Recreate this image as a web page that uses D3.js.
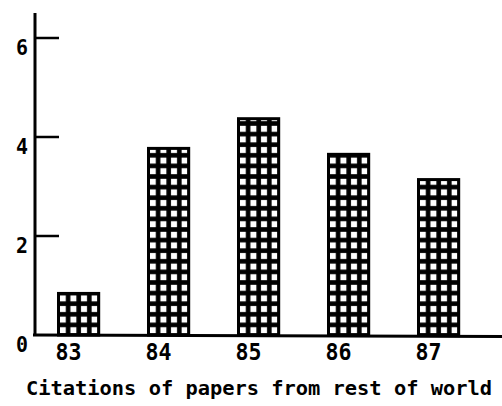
<!DOCTYPE html>
<html><head><meta charset="utf-8">
<script src="https://cdn.jsdelivr.net/npm/d3@7"></script>
<style>body{margin:0;background:#fff}svg{display:block}</style>
</head><body>
<script>
const years = ["83","84","85","86","87"];
const values = [0.87, 3.8, 4.4, 3.68, 3.17];
const yTicks = [0, 2, 4, 6];
const yTickLabels = ["0", "2", "4", "6"];
const xTitle = "Citations of papers from rest of world";

const W = 502, H = 406;
const svg = d3.select("body").append("svg").attr("width", W).attr("height", H);

const x = d3.scaleBand().domain(years).range([33.6, 483.6]).paddingInner(0.52).paddingOuter(0.26);
const y = d3.scaleLinear().domain([0, 6]).range([335, 38]);
const axisX = 35;

const defs = svg.append("defs");
const cellW = 10.6, cellH = 10.6;
values.forEach((v, i) => {
  const p = defs.append("pattern").attr("id", "grid" + i)
    .attr("patternUnits", "userSpaceOnUse")
    .attr("x", x(years[i])).attr("y", y(0))
    .attr("width", cellW).attr("height", cellH);
  p.append("rect").attr("width", cellW).attr("height", cellH).attr("fill", "#000");
  p.append("rect").attr("x", 2.8).attr("y", 2.8).attr("width", cellW - 4.6).attr("height", cellH - 4.6).attr("fill", "#fff");
});

// bars
svg.selectAll("rect.bar").data(values).enter().append("rect")
  .attr("class", "bar")
  .attr("x", (d, i) => x(years[i]) + 1.5)
  .attr("y", d => y(d) + 1.5)
  .attr("width", x.bandwidth() - 3)
  .attr("height", d => y(0) - y(d) - 1.5)
  .attr("fill", (d, i) => `url(#grid${i})`)
  .attr("stroke", "#000").attr("stroke-width", 3);

// y axis line
svg.append("line").attr("x1", axisX).attr("x2", axisX).attr("y1", 13).attr("y2", y(0) + 1)
  .attr("stroke", "#000").attr("stroke-width", 3);
// baseline
svg.append("line").attr("x1", axisX - 2).attr("x2", W).attr("y1", y(0)).attr("y2", y(0) + 1.5)
  .attr("stroke", "#000").attr("stroke-width", 3);

// y ticks
svg.selectAll("line.yt").data(yTicks.filter(t => t > 0)).enter().append("line")
  .attr("x1", axisX).attr("x2", 59).attr("y1", d => y(d)).attr("y2", d => y(d))
  .attr("stroke", "#000").attr("stroke-width", 2.5);

svg.selectAll("text.yl").data(yTicks).enter().append("text")
  .attr("x", 22).attr("y", d => y(d) + 17)
  .attr("text-anchor", "middle")
  .attr("font-family", "DejaVu Sans Mono").attr("font-weight", "bold").attr("font-size", 21)
  .attr("textLength", 12).attr("lengthAdjust", "spacingAndGlyphs")
  .text((d, i) => yTickLabels[i]);

// x labels
svg.selectAll("text.xl").data(years).enter().append("text")
  .attr("x", d => x(d) + x.bandwidth() / 2 - 10).attr("y", 360)
  .attr("text-anchor", "middle")
  .attr("font-family", "DejaVu Sans Mono").attr("font-weight", "bold").attr("font-size", 23)
  .attr("textLength", 26).attr("lengthAdjust", "spacingAndGlyphs")
  .text(d => d);

// title
svg.append("text").attr("x", 26).attr("y", 395)
  .attr("font-family", "DejaVu Sans Mono").attr("font-weight", "bold").attr("font-size", 20)
  .attr("textLength", 466).attr("lengthAdjust", "spacingAndGlyphs")
  .text(xTitle);
</script>
</body></html>
